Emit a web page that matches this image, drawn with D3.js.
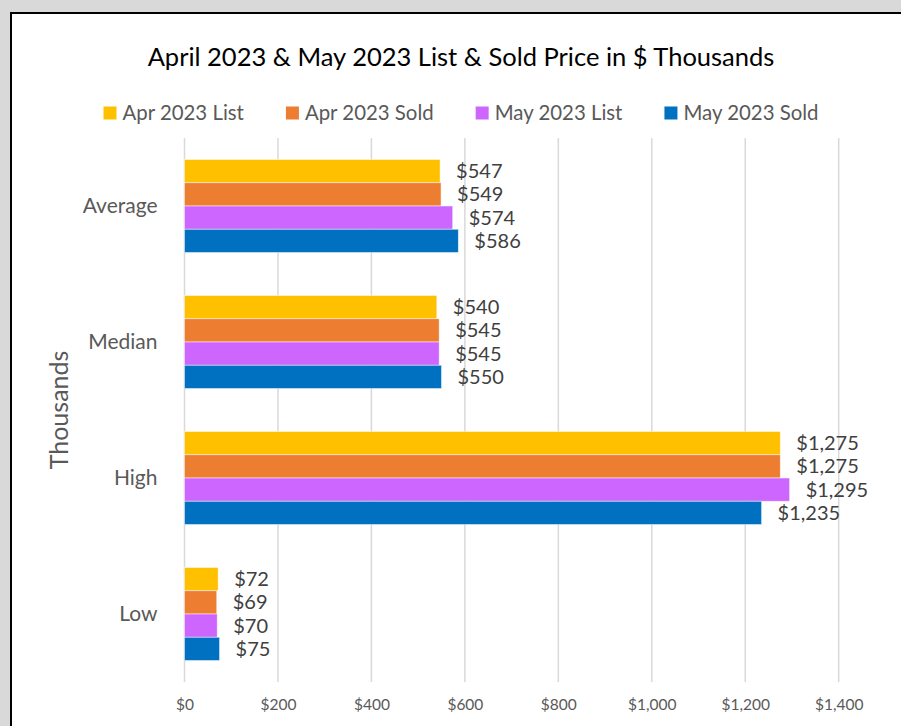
<!DOCTYPE html>
<html>
<head>
<meta charset="utf-8">
<script src="https://cdnjs.cloudflare.com/ajax/libs/d3/7.8.5/d3.min.js"></script>
<style>
  html, body { margin: 0; padding: 0; background: #d9d9d9; overflow: hidden; }
  svg { display: block; font-family: Lato, "Open Sans", sans-serif; }
</style>
</head>
<body>
<div id="chart"></div>
<script>
// chart data
const categories = ['Average', 'Median', 'High', 'Low'];
const seriesNames = ['Apr 2023 List', 'Apr 2023 Sold', 'May 2023 List', 'May 2023 Sold'];
const seriesColors = ['#ffc000', '#ed7d31', '#cc66ff', '#0070c0'];
const aprList = [547, 540, 1275, 72];
const aprSold = [549, 545, 1275, 69];
const mayList = [574, 545, 1295, 70];
const maySold = [586, 550, 1235, 75];
const xTicks = [0, 200, 400, 600, 800, 1000, 1200, 1400];

const seriesValues = [aprList, aprSold, mayList, maySold];

const width = 901, height = 726;
const plot = { left: 184.5, right: 838.7, top: 138, bottom: 682 };

const svg = d3.select('#chart').append('svg')
    .attr('width', width)
    .attr('height', height);

// chart box with black border, running off the right/bottom edge
svg.append('rect')
    .attr('x', 11)
    .attr('y', 13)
    .attr('width', 940)
    .attr('height', 760)
    .attr('fill', '#fff')
    .attr('stroke', '#000')
    .attr('stroke-width', 2);

const x = d3.scaleLinear().domain([0, 1400]).range([plot.left, plot.right]);
const y = d3.scaleBand().domain(categories)
    .range([plot.top, plot.bottom])
    .paddingInner(0.316)
    .paddingOuter(0.158);
const ySub = d3.scaleBand().domain(seriesNames).range([0, y.bandwidth()]);

// gridlines
svg.append('g')
    .selectAll('line')
    .data(xTicks)
    .enter()
    .append('line')
    .attr('x1', d => x(d))
    .attr('x2', d => x(d))
    .attr('y1', plot.top)
    .attr('y2', plot.bottom)
    .attr('stroke', '#d9d9d9')
    .attr('stroke-width', 1.5);

// x axis tick labels
const xAxis = d3.axisBottom(x)
    .tickValues(xTicks)
    .tickSize(0)
    .tickPadding(0)
    .tickFormat(d => '$' + d3.format(',')(d));

const xg = svg.append('g')
    .attr('transform', `translate(0,${plot.bottom + 28})`)
    .call(xAxis);
xg.select('.domain').remove();
xg.selectAll('text')
    .attr('dy', 0)
    .style('font-size', '15.5px')
    .style('fill', '#595959')
    .style('font-family', 'Lato, sans-serif');

// category labels
const yAxis = d3.axisLeft(y).tickSize(0).tickPadding(0);
const yg = svg.append('g')
    .attr('transform', `translate(${plot.left - 27},0)`)
    .call(yAxis);
yg.select('.domain').remove();
yg.selectAll('text')
    .style('font-size', '21px')
    .style('fill', '#595959')
    .style('font-family', 'Lato, sans-serif');

// bars
const rows = [];
seriesNames.forEach((name, si) => {
    categories.forEach((cat, ci) => {
        rows.push({ name, cat, value: seriesValues[si][ci], color: seriesColors[si] });
    });
});

svg.append('g')
    .selectAll('rect')
    .data(rows)
    .enter()
    .append('rect')
    .attr('x', x(0))
    .attr('y', d => y(d.cat) + ySub(d.name))
    .attr('width', d => x(d.value) - x(0))
    .attr('height', ySub.bandwidth())
    .attr('fill', d => d.color)
    .attr('stroke', '#fff')
    .attr('stroke-opacity', 0.6)
    .attr('stroke-width', 0.8);

// data labels
svg.append('g')
    .selectAll('text')
    .data(rows)
    .enter()
    .append('text')
    .attr('x', d => x(d.value) + 16)
    .attr('y', d => y(d.cat) + ySub(d.name) + ySub.bandwidth() / 2)
    .attr('dy', '0.35em')
    .style('font-size', '20px')
    .style('fill', '#404040')
    .text(d => '$' + d3.format(',')(d.value));

// title
svg.append('text')
    .attr('x', 461)
    .attr('y', 66)
    .attr('text-anchor', 'middle')
    .style('font-size', '25.5px')
    .style('fill', '#000')
    .text('April 2023 & May 2023 List & Sold Price in $ Thousands');

// y axis title
svg.append('text')
    .attr('transform', 'translate(68,410) rotate(-90)')
    .attr('text-anchor', 'middle')
    .style('font-size', '25px')
    .style('fill', '#595959')
    .text('Thousands');

// legend
const legend = svg.append('g').attr('transform', 'translate(0,113)');
const items = legend.selectAll('g')
    .data(seriesNames)
    .enter()
    .append('g');
items.append('rect')
    .attr('y', -6.5)
    .attr('width', 13)
    .attr('height', 13)
    .attr('fill', (d, i) => seriesColors[i]);
items.append('text')
    .attr('x', 19)
    .attr('dy', '0.35em')
    .style('font-size', '20.4px')
    .style('fill', '#595959')
    .text(d => d);

let offset = 0;
const positions = [];
items.each(function () {
    positions.push(offset);
    const w = 19 + this.querySelector('text').getComputedTextLength();
    offset += w + 42;
});
const legendWidth = offset - 42;
const legendStart = 461 - legendWidth / 2;
items.attr('transform', (d, i) => `translate(${legendStart + positions[i]},0)`);
</script>
</body>
</html>
